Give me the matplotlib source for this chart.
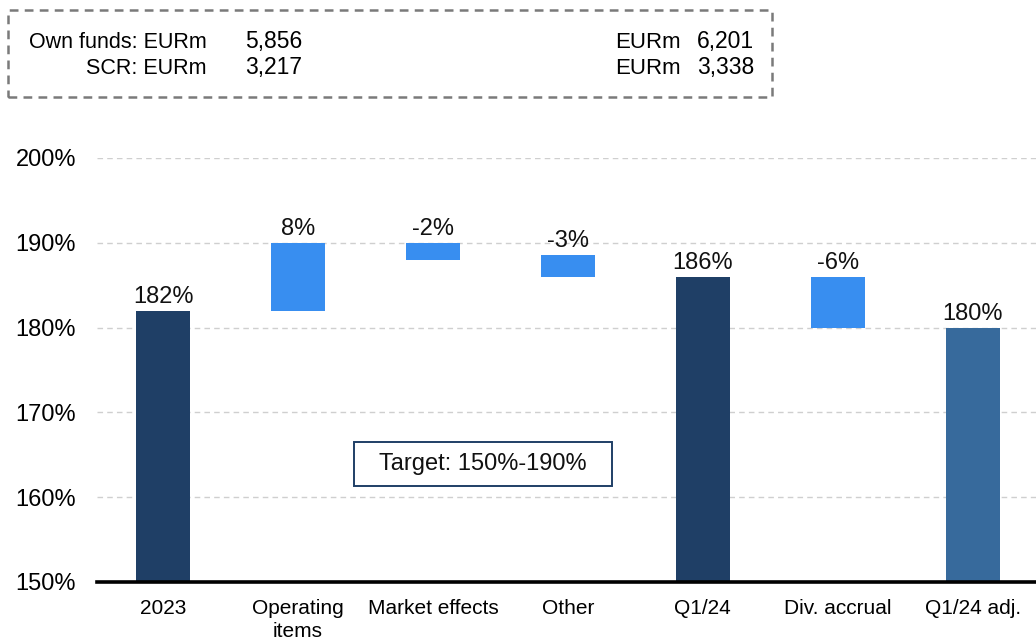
import matplotlib.pyplot as plt
from matplotlib.patches import Rectangle

plt.rcParams['font.family'] = ['Liberation Sans', 'DejaVu Sans']

categories = ['2023', 'Operating\nitems', 'Market effects', 'Other', 'Q1/24', 'Div. accrual', 'Q1/24 adj.']
bar_low = [150, 182, 188, 186, 150, 180, 150]
bar_high = [182, 190, 190, 188.6, 186, 186, 180]
value_labels = ['182%', '8%', '-2%', '-3%', '186%', '-6%', '180%']
bar_kind = ['total', 'delta', 'delta', 'delta', 'total', 'delta', 'adj']

header_rows = [('Own funds: EURm', '5,856', 'EURm', '6,201'),
               ('SCR: EURm', '3,217', 'EURm', '3,338')]
target_text = 'Target: 150%-190%'
yticks = [150, 160, 170, 180, 190, 200]

colors = {'total': '#1F3F66', 'delta': '#388EF0', 'adj': '#376A9C'}
W, H = 1036, 641

fig = plt.figure(figsize=(W / 100, H / 100), dpi=100)
ax = fig.add_axes([97 / W, 59 / H, (W - 97) / W, (582 - 158) / H])

x = range(len(categories))
heights = [h - l for l, h in zip(bar_low, bar_high)]
ax.bar(x, heights, bottom=bar_low, width=0.4,
       color=[colors[k] for k in bar_kind], zorder=3)

for xi, top, lab in zip(x, bar_high, value_labels):
    ax.annotate(lab, (xi, top), xytext=(0, 2), textcoords='offset points',
                ha='center', va='bottom', fontsize=17, color='#111111')

ax.set_xlim(-0.49, 6.47)
ax.set_ylim(150, 200)
ax.set_yticks(yticks)
ax.set_yticklabels([f'{v}%' for v in yticks], fontsize=17)
ax.set_xticks(list(x))
ax.set_xticklabels(categories, fontsize=15, linespacing=1.3)
ax.tick_params(axis='both', length=0)
ax.tick_params(axis='y', pad=15)
ax.tick_params(axis='x', pad=12)

ax.grid(axis='y', color='#CFCFCF', linestyle=(0, (4, 3)), linewidth=1, zorder=0)
ax.set_axisbelow(True)
for s in ['top', 'right', 'left']:
    ax.spines[s].set_visible(False)
ax.spines['bottom'].set_linewidth(2.6)
ax.spines['bottom'].set_color('black')
ax.spines['bottom'].set_zorder(4)

# target note, box padded wider than tall
t = ax.text(2.37, 163.9, target_text, ha='center', va='center', fontsize=17,
            color='#111111', zorder=6)
fig.canvas.draw()
bb = t.get_window_extent(renderer=fig.canvas.get_renderer())
x0, x1 = bb.x0 - 25, bb.x1 + 25
yc = (bb.y0 + bb.y1) / 2
y0, y1 = yc - 22, yc + 22
fig.patches.append(Rectangle((x0 / W, y0 / H), (x1 - x0) / W, (y1 - y0) / H,
                             transform=fig.transFigure, facecolor='white',
                             edgecolor='#1F3F66', linewidth=1.4, zorder=5))
t.remove()
fig.text((x0 + x1) / 2 / W, yc / H, target_text, ha='center', va='center',
         fontsize=17, color='#111111', zorder=6)

# header box with own funds / SCR
fig.patches.append(Rectangle((8 / W, 1 - 97 / H), (772 - 8) / W, (97 - 10) / H,
                             transform=fig.transFigure, fill=False,
                             edgecolor='#7A7A7A', linewidth=1.8,
                             linestyle=(0, (3.5, 2.5))))
for row, y in zip(header_rows, [48, 74]):
    fy = 1 - y / H
    fig.text(207 / W, fy, row[0], ha='right', va='baseline', fontsize=15.5)
    fig.text(245 / W, fy, row[1], ha='left', va='baseline', fontsize=16.5)
    fig.text(681 / W, fy, row[2], ha='right', va='baseline', fontsize=16)
    fig.text(697 / W, fy, row[3], ha='left', va='baseline', fontsize=16.5)

fig.savefig('out.png', dpi=100)
